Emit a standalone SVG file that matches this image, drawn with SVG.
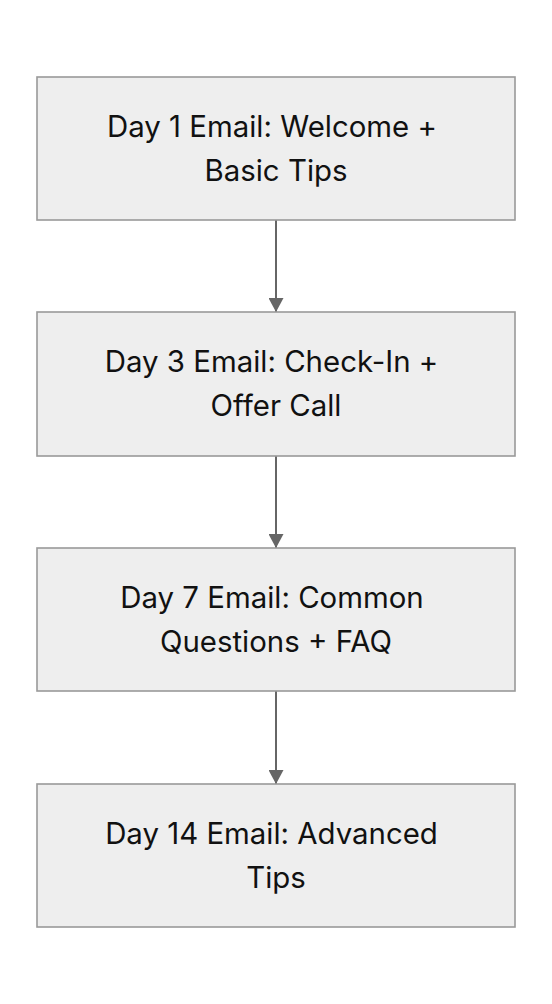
<svg xmlns="http://www.w3.org/2000/svg" width="552" height="1004" viewBox="0 0 552 1004">
<defs>
<style>
.box{fill:#eeeeee;stroke:#999999;stroke-width:1.6}
.lbl{font-family:Inter,"Noto Sans",sans-serif;font-size:29.4px;fill:#111111;text-anchor:middle}
.edge{stroke:#666666;stroke-width:2;fill:none}
</style>
<marker id="arr" viewBox="0 0 14 15" refX="14" refY="7.5" markerWidth="14" markerHeight="15" markerUnits="userSpaceOnUse" orient="auto">
<path d="M0,0 L14,7.5 L0,15 Z" fill="#666666"/>
</marker>
</defs>
<rect width="552" height="1004" fill="#ffffff"/>
<g id="connectors">
<path class="edge" d="M276,220 V312" marker-end="url(#arr)"/>
<path class="edge" d="M276,456 V548" marker-end="url(#arr)"/>
<path class="edge" d="M276,691 V784" marker-end="url(#arr)"/>
</g>
<g id="day1">
<rect class="box" x="37" y="77" width="478" height="143"/>
<text class="lbl" x="272" y="137">Day 1 Email: Welcome +</text>
<text class="lbl" x="276" y="181">Basic Tips</text>
</g>
<g id="day3">
<rect class="box" x="37" y="312" width="478" height="144"/>
<text class="lbl" x="271.5" y="372">Day 3 Email: Check-In +</text>
<text class="lbl" x="276" y="416">Offer Call</text>
</g>
<g id="day7">
<rect class="box" x="37" y="548" width="478" height="143"/>
<text class="lbl" x="272" y="608">Day 7 Email: Common</text>
<text class="lbl" x="276" y="652">Questions + FAQ</text>
</g>
<g id="day14">
<rect class="box" x="37" y="784" width="478" height="143"/>
<text class="lbl" x="271.5" y="844">Day 14 Email: Advanced</text>
<text class="lbl" x="276" y="888">Tips</text>
</g>
</svg>
